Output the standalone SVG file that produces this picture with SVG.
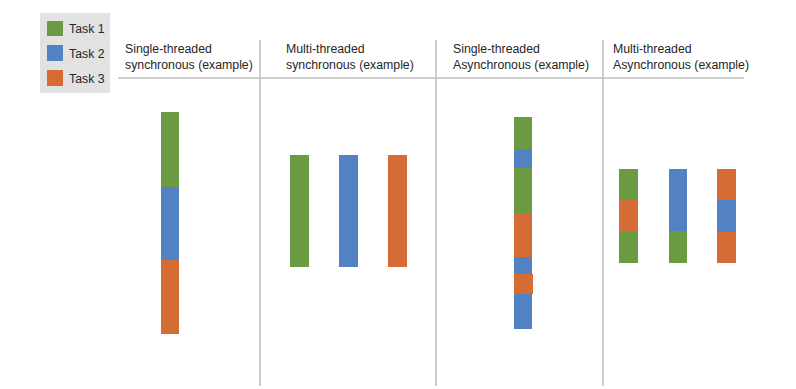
<svg xmlns="http://www.w3.org/2000/svg" width="796" height="389" viewBox="0 0 796 389">
<style>
.t{font-family:"Liberation Sans",Arial,sans-serif;font-size:12.3px;fill:#262626}
.g{fill:#6a9a42}.b{fill:#5282c4}.o{fill:#d66c35}
.ln{stroke:#bfbfbf;stroke-width:1.5;fill:none}
</style>
<rect width="796" height="389" fill="#fff"/>
<g id="legend">
<rect x="40" y="13" width="70" height="80" fill="#e2e2e2"/>
<rect class="g" x="47" y="21" width="16" height="15"/>
<rect class="b" x="47" y="45" width="16" height="16"/>
<rect class="o" x="47" y="70" width="16" height="16"/>
<text class="t" x="69" y="33">Task 1</text>
<text class="t" x="69" y="58">Task 2</text>
<text class="t" x="69" y="83">Task 3</text>
</g>
<g id="grid">
<path class="ln" d="M118 78H744M260 40V386M436 40V386M603 40V386"/>
</g>
<g id="titles">
<text class="t" x="125" y="53">Single-threaded</text>
<text class="t" x="125" y="69">synchronous (example)</text>
<text class="t" x="286" y="53">Multi-threaded</text>
<text class="t" x="286" y="69">synchronous (example)</text>
<text class="t" x="453" y="53">Single-threaded</text>
<text class="t" x="453" y="69">Asynchronous (example)</text>
<text class="t" x="613" y="53">Multi-threaded</text>
<text class="t" x="613" y="69">Asynchronous (example)</text>
</g>
<g id="single-sync">
<rect class="g" x="161" y="112" width="18" height="75"/>
<rect class="b" x="161" y="187" width="18" height="73"/>
<rect class="o" x="161" y="260" width="18" height="74"/>
</g>
<g id="multi-sync">
<rect class="g" x="290" y="155" width="19" height="112"/>
<rect class="b" x="339" y="155" width="19" height="112"/>
<rect class="o" x="388" y="155" width="19" height="112"/>
</g>
<g id="single-async">
<rect class="g" x="514" y="117" width="18" height="32"/>
<rect class="b" x="514" y="149" width="18" height="19"/>
<rect class="g" x="514" y="168" width="18" height="45"/>
<rect class="o" x="514" y="213" width="18" height="44"/>
<rect class="b" x="514" y="257" width="18" height="17"/>
<rect class="o" x="514" y="274" width="19" height="20"/>
<rect class="b" x="514" y="294" width="18" height="35"/>
</g>
<g id="multi-async">
<rect class="g" x="619" y="169" width="19" height="31"/>
<rect class="o" x="619" y="200" width="19" height="32"/>
<rect class="g" x="619" y="232" width="19" height="31"/>
<rect class="b" x="669" y="169" width="18" height="62"/>
<rect class="g" x="669" y="231" width="18" height="32"/>
<rect class="o" x="717" y="169" width="19" height="31"/>
<rect class="b" x="717" y="200" width="19" height="32"/>
<rect class="o" x="717" y="232" width="19" height="31"/>
</g>
</svg>
